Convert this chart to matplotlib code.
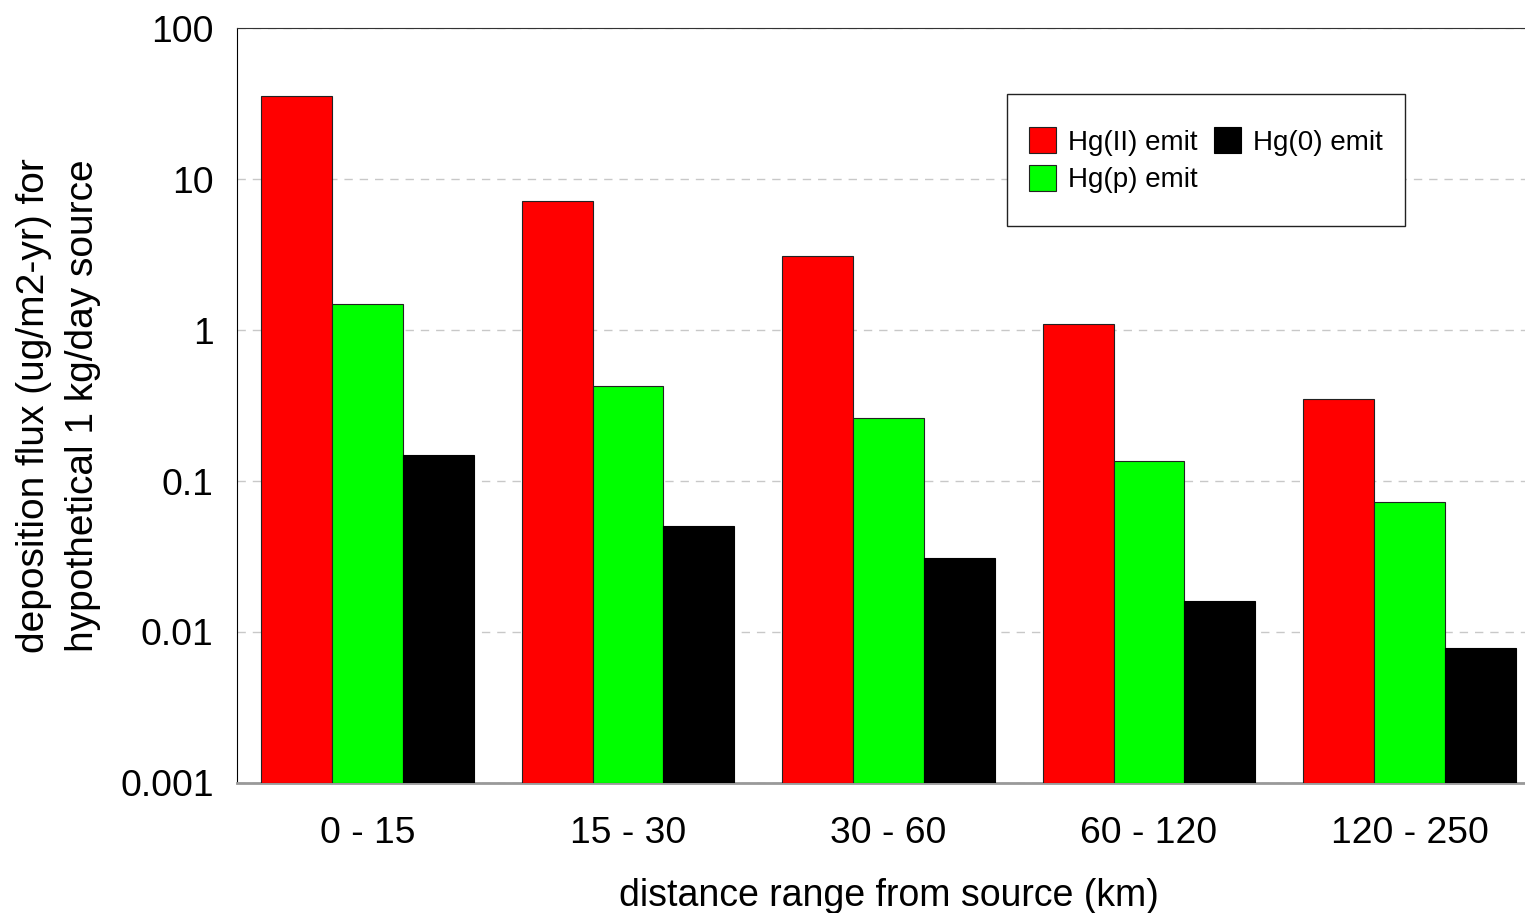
import matplotlib.pyplot as plt
from matplotlib.patches import Rectangle
import numpy as np

plt.rcParams['font.family'] = ['Liberation Sans', 'DejaVu Sans']

ranges = ["0 - 15", "15 - 30", "30 - 60", "60 - 120", "120 - 250"]
hg2 = [35.5, 7.15, 3.09, 1.1, 0.35]
hgp = [1.49, 0.425, 0.261, 0.136, 0.0726]
hg0 = [0.149, 0.0503, 0.0309, 0.016, 0.00783]

fig = plt.figure(figsize=(15.25, 9.13), dpi=100)
ax = fig.add_axes([0.1556, 0.1424, 0.8541, 0.8269])

x = np.arange(len(ranges))
w = 0.272
base = 0.001
ax.bar(x - w, np.array(hg2) - base, w, bottom=base, color='#ff0000', edgecolor='#222222', linewidth=0.8, label='Hg(II) emit', zorder=3)
ax.bar(x, np.array(hgp) - base, w, bottom=base, color='#00ff00', edgecolor='#222222', linewidth=0.8, label='Hg(p) emit', zorder=3)
ax.bar(x + w, np.array(hg0) - base, w, bottom=base, color='#000000', edgecolor='#000000', linewidth=0.8, label='Hg(0) emit', zorder=3)

ax.set_yscale('log')
ax.set_ylim(0.001, 100)
ax.set_xlim(-0.5, 4.5)
ax.set_yticks([0.001, 0.01, 0.1, 1, 10, 100])
ax.set_yticklabels(['0.001', '0.01', '0.1', '1', '10', '100'])
ax.minorticks_off()
ax.set_xticks(x)
ax.set_xticklabels(ranges)
ax.tick_params(length=0, labelsize=26.8)
ax.tick_params(axis='x', pad=24)
ax.tick_params(axis='y', pad=17)

ax.yaxis.grid(True, color='#c8c8c8', linestyle=(0, (6, 5)), linewidth=1)
ax.set_axisbelow(True)

ax.spines['right'].set_visible(False)
ax.spines['top'].set_color('#333333')
ax.spines['left'].set_color('#000000')
ax.spines['bottom'].set_color('#999999')
ax.spines['bottom'].set_linewidth(2)

ax.set_xlabel("distance range from source (km)", fontsize=27, labelpad=19)
ax.set_ylabel("deposition flux (ug/m2-yr) for\nhypothetical 1 kg/day source", fontsize=28,
              labelpad=14, linespacing=1.45)

leg = ax.legend(ncol=2, loc='upper left', bbox_to_anchor=(0.591, 0.898), borderaxespad=0,
                fontsize=20, frameon=False,
                handlelength=0.97, handleheight=1.05, handletextpad=0.43,
                columnspacing=0.58, labelspacing=0.33, borderpad=0.8)
leg.set_zorder(6)

# legend frame: taller than the legend's own padding allows
fig.canvas.draw()
bb = leg.get_window_extent()
pad_y = 11
inv = ax.transAxes.inverted()
(x0, y0), (x1, y1) = inv.transform([(bb.x0, bb.y0 - pad_y), (bb.x1, bb.y1 + pad_y)])
ax.add_patch(Rectangle((x0, y0), x1 - x0, y1 - y0, transform=ax.transAxes, facecolor='white',
                       edgecolor='#222222', linewidth=1, zorder=5, clip_on=False))

plt.savefig('out.png', dpi=100)
